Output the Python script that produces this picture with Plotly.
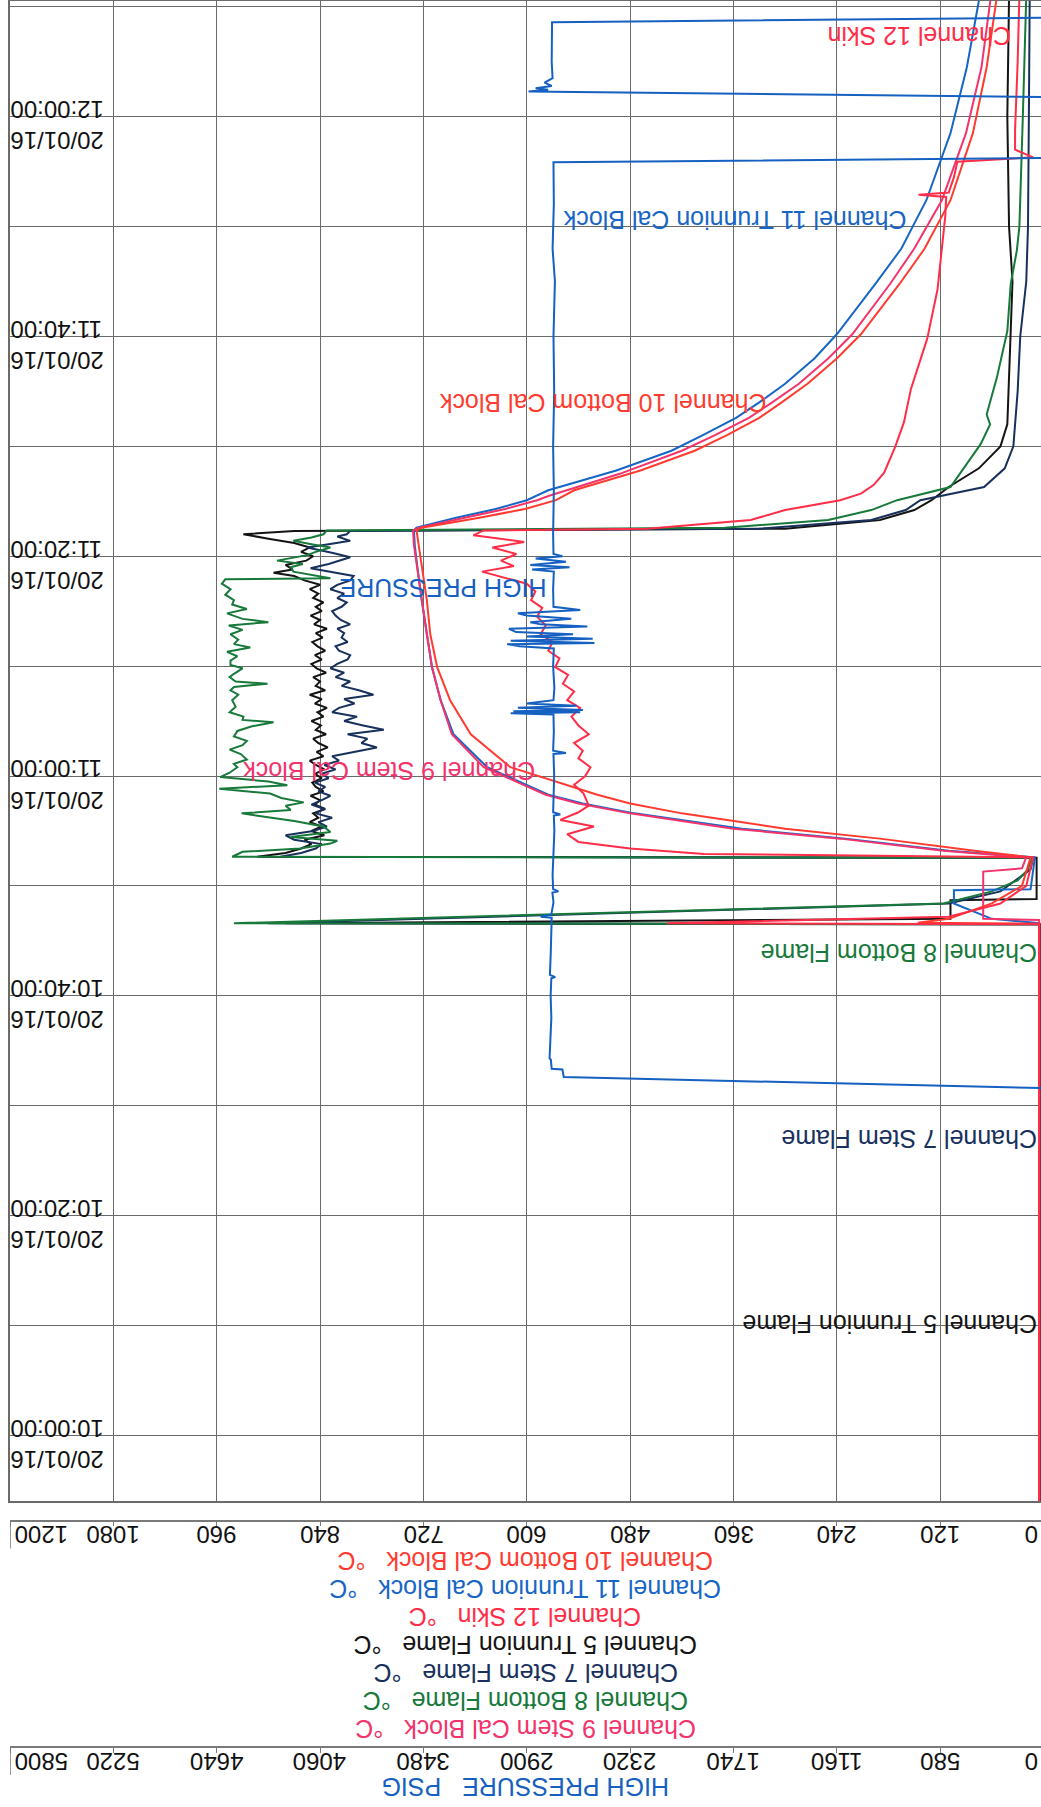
import plotly.graph_objects as go
import pandas as pd

# ---------------- data (minutes after 10:00, value) ----------------
BASE = pd.Timestamp("2016-01-20 10:00:00")

temp_ticks = [0, 120, 240, 360, 480, 600, 720, 840, 960, 1080, 1200]
temp_ticktext = ["0", "120", "240", "360", "480", "600", "720", "840", "960", "1080", "1200"]
press_ticks = [0, 580, 1160, 1740, 2320, 2900, 3480, 4060, 4640, 5220, 5800]
press_ticktext = ["0", "580", "1160", "1740", "2320", "2900", "3480", "4060", "4640", "5220", "5800"]
time_ticks_min = [0, 20, 40, 60, 80, 100, 120]
time_ticktext = ["20/01/16<br>10:00:00", "20/01/16<br>10:20:00", "20/01/16<br>10:40:00",
                 "20/01/16<br>11:00:00", "20/01/16<br>11:20:00", "20/01/16<br>11:40:00",
                 "20/01/16<br>12:00:00"]

# Channel 5 Trunnion Flame (black)
ch5 = [(-7, 4), (46.5, 4), (46.6, 880), (47.0, 108), (48.7, 108), (48.8, 8), (52.55, 8),
       (52.65, 913), (53.0, 880), (53.4, 862), (53.8, 850), (54.2, 858), (54.6, 835), (55.0, 850),
       (55.4, 838), (55.8, 852), (56.2, 842), (56.6, 848), (57.0, 834), (57.4, 846), (57.8, 840),
       (58.2, 851), (58.6, 836), (59.0, 845), (59.4, 849), (59.8, 838), (60.2, 846), (60.6, 835),
       (61.0, 845), (61.4, 852), (61.8, 836), (62.2, 844), (62.6, 831), (63.0, 842), (63.4, 848),
       (63.8, 833), (64.2, 845), (64.6, 839), (65.0, 850), (65.4, 836), (65.8, 843), (66.2, 832),
       (66.6, 846), (67.0, 838), (67.4, 852), (67.8, 834), (68.2, 845), (68.6, 840), (69.0, 848),
       (69.4, 833), (69.8, 844), (70.2, 850), (70.6, 838), (71.0, 846), (71.4, 834), (71.8, 843),
       (72.2, 849), (72.6, 837), (73.0, 845), (73.4, 832), (73.8, 847), (74.2, 840), (74.6, 851),
       (75.0, 838), (75.4, 845), (75.8, 836), (76.2, 848), (76.6, 842), (77.0, 852), (77.4, 840),
       (77.8, 858), (78.2, 870), (78.5, 894), (78.8, 872), (79.2, 880), (79.6, 856), (80.0, 848),
       (80.4, 862), (80.8, 852), (81.2, 870), (81.6, 900), (82.0, 929), (82.3, 870),
       (82.5, 300), (83.3, 190), (84.2, 150), (85.1, 130), (86.3, 110), (88, 75), (90, 50),
       (92, 42), (96, 40), (100, 38), (105, 36), (110, 40), (120, 42), (131, 40)]

# Channel 7 Stem Flame (navy)
ch7 = [(-7, 5), (46.5, 5), (46.6, 900), (48.4, 110), (49.5, 50), (51.5, 15), (52.55, 12),
       (52.65, 886), (53.0, 862), (53.4, 845), (53.8, 838), (54.2, 870), (54.6, 880), (55.0, 848),
       (55.4, 832), (55.8, 842), (56.2, 826), (56.6, 845), (57.0, 835), (57.4, 850), (57.8, 838),
       (58.2, 828), (58.6, 842), (59.0, 834), (59.4, 846), (59.8, 830), (60.2, 838), (60.6, 822),
       (61.0, 835), (61.4, 818), (61.8, 826), (62.2, 800), (62.6, 774), (63.0, 792), (63.4, 785),
       (63.8, 808), (64.2, 766), (64.6, 790), (65.0, 812), (65.4, 797), (65.8, 826), (66.2, 818),
       (66.6, 800), (67.0, 812), (67.4, 778), (67.8, 795), (68.2, 815), (68.6, 805), (69.0, 822),
       (69.4, 812), (69.8, 828), (70.2, 820), (70.6, 808), (71.0, 805), (71.4, 818), (71.8, 822),
       (72.2, 808), (72.6, 815), (73.0, 812), (73.4, 820), (73.8, 805), (74.2, 816), (74.6, 822),
       (75.0, 826), (75.4, 815), (75.8, 809), (76.2, 820), (76.6, 812), (77.0, 828), (77.4, 820),
       (77.8, 805), (78.2, 801), (78.6, 830), (78.9, 851), (79.3, 830), (79.9, 805), (80.3, 825),
       (80.8, 855), (81.1, 830), (81.4, 805), (81.8, 820), (82.0, 809), (82.3, 805),
       (82.5, 330), (83.3, 200), (84.2, 160), (85.1, 143), (86.3, 69), (88, 45), (90, 35),
       (95, 30), (100, 27), (105, 20), (110, 18), (120, 17), (131, 16)]

# Channel 8 Bottom Flame (green)
ch8 = [(-7, 5), (46.5, 5), (46.6, 940), (48.4, 116), (49.5, 60), (50.5, 30), (51.5, 18), (52.55, 14),
       (52.65, 942), (53.1, 930), (53.4, 863), (53.85, 828), (54.1, 820), (54.45, 874), (54.9, 828),
       (55.4, 836), (55.9, 870), (56.3, 905), (56.6, 931), (56.9, 874), (57.3, 880), (57.6, 859),
       (58.0, 885), (58.4, 898), (58.85, 957), (59.15, 878), (59.5, 900), (59.9, 956), (60.3, 945),
       (60.8, 936), (61.1, 940), (61.5, 925), (62.0, 932), (62.4, 945), (62.8, 930), (63.2, 925),
       (63.6, 940), (64.1, 936), (64.5, 920), (64.9, 894), (65.1, 930), (65.4, 929), (65.8, 945),
       (66.3, 938), (66.9, 942), (67.4, 935), (67.8, 944), (68.1, 940), (68.4, 901), (68.6, 938),
       (69.0, 945), (69.3, 940), (69.8, 930), (70.1, 944), (70.5, 944), (70.9, 936), (71.3, 948),
       (71.7, 921), (72.0, 940), (72.4, 935), (72.9, 944), (73.3, 930), (73.7, 946), (74.0, 900),
       (74.3, 930), (74.8, 948), (75.2, 925), (75.6, 942), (76.0, 940), (76.5, 950), (77.0, 944),
       (77.5, 954), (77.9, 950), (78.0, 828), (78.3, 850), (78.6, 871), (79.0, 874), (79.3, 860),
       (79.6, 890), (80.1, 855), (80.4, 845), (80.8, 828), (81.1, 850), (81.4, 871), (81.7, 850),
       (82.0, 836), (82.35, 832),
       (82.6, 370), (83.3, 250), (84.2, 200), (85.1, 170), (86.3, 108), (90.2, 73), (92.0, 62),
       (92.9, 66), (96.3, 54), (100.5, 42), (104.8, 38), (107.8, 31), (110, 28), (120, 24), (131, 20)]

# Channel 9 Stem Cal Block (pink)
ch9 = [(-7, 5), (46.9, 5), (47.0, 70), (51.3, 70), (51.6, 25), (52.6, 20),
       (53.2, 116), (54.3, 236), (55.2, 360), (56.6, 480), (57.5, 540), (58.3, 578), (60.8, 650),
       (63.8, 687), (66.9, 700), (69.9, 710), (72.9, 716), (76.0, 722), (79.0, 727), (81.0, 731),
       (82.35, 732), (82.6, 725), (83.5, 672), (84.3, 625), (85.1, 588), (85.5, 574), (87.5, 492),
       (89.6, 420), (91.0, 382), (92.6, 342), (94.0, 315), (95.7, 284), (98.0, 250), (100.2, 222),
       (104.8, 178), (108, 150), (112.4, 118), (118.5, 90), (124.5, 72), (131, 61)]

# Channel 10 Bottom Cal Block (orange-red)
ch10 = [(-7, 5), (46.55, 5), (46.65, 146), (47.0, 110), (48.4, 60), (50, 25), (52.6, 15),
        (53.2, 80), (54.3, 190), (55.2, 300), (56.6, 420), (57.5, 480), (58.3, 518), (60.8, 619),
        (63.8, 665), (66.9, 689), (69.9, 704), (72.9, 712), (76.0, 716), (79.0, 722), (81.0, 726),
        (82.35, 728), (82.6, 722), (83.5, 655), (84.3, 602), (85.1, 566), (86.0, 545), (87.8, 468),
        (89.6, 405), (91.0, 368), (92.6, 330), (94.0, 304), (95.7, 274), (98.0, 240), (100.2, 212),
        (104.8, 167), (108, 138), (112.4, 108), (118.5, 82), (124.5, 66), (131, 54)]

# Channel 11 Trunnion Cal Block (blue)
ch11 = [(-7, 5), (46.6, 5), (47.0, 60), (48.4, 104), (49.6, 104), (49.7, 15), (52.6, 10),
        (53.2, 110), (54.3, 230), (55.2, 350), (56.6, 475), (57.5, 535), (58.3, 575), (60.8, 646),
        (63.8, 685), (66.9, 700), (69.9, 710), (72.9, 716), (76.0, 722), (79.0, 727), (81.0, 730),
        (82.35, 731), (82.6, 728), (83.5, 682), (84.3, 636), (85.1, 600), (86.0, 575), (87.8, 496),
        (89.6, 432), (91.0, 396), (92.6, 357), (94.0, 330), (95.7, 300), (98.0, 266), (100.2, 240),
        (104.8, 195), (108, 165), (112.4, 136), (118.5, 108), (124.5, 89), (131, 74)]

# Channel 12 Skin (red)
ch12 = [(-7, 5), (46.5, 5), (46.6, 437), (47.2, 110), (48.4, 50), (50, 20), (52.6, 12),
        (52.9, 394), (53.4, 480), (54.0, 540), (54.7, 553), (55.4, 522), (56.0, 561), (56.7, 540),
        (57.3, 528), (58.4, 534), (59.2, 545), (60.0, 532), (60.8, 526), (61.6, 540), (62.3, 535),
        (63.0, 545), (63.8, 528), (64.6, 540), (65.4, 548), (66.2, 538), (66.9, 553), (67.7, 545),
        (68.4, 558), (69.2, 552), (69.9, 567), (70.7, 562), (71.4, 575), (72.2, 570), (72.9, 584),
        (73.7, 578), (74.5, 588), (75.3, 582), (76.0, 595), (76.8, 590), (77.5, 600), (78.0, 625),
        (78.6, 652), (79.1, 615), (79.6, 630), (80.2, 612), (80.8, 640), (81.3, 603), (81.9, 662),
        (82.35, 650), (82.5, 460), (83.3, 340), (84.2, 300), (85.1, 236), (85.7, 212), (86.5, 197),
        (87.6, 185), (90, 172), (92.2, 162), (95.2, 154), (99.8, 135), (104.3, 123), (108, 118),
        (111, 114), (112.7, 113), (112.9, 145), (113.1, 110), (114.5, 104), (115.9, 100),
        (116.3, 12), (117, 33), (118.8, 33), (125, 30), (131, 28)]

# HIGH PRESSURE (psig)
pressure = [(-7, 0), (31.6, 0), (32.6, 2692), (33.3, 2700), (33.35, 2760), (34.2, 2765), (34.3, 2772),
            (36, 2768), (38, 2762), (40, 2766), (41.6, 2762), (41.7, 2740), (41.9, 2770), (44, 2765),
            (46.5, 2760), (47.1, 2760), (47.2, 2822), (47.4, 2762), (48.5, 2750), (49.4, 2756),
            (49.5, 2722), (49.7, 2752), (51, 2755), (52.6, 2752), (53.5, 2748), (55, 2745),
            (56.4, 2748), (56.5, 2712), (56.7, 2752), (58, 2750), (60, 2746), (62.0, 2750),
            (62.1, 2680), (62.3, 2752), (64, 2748), (65.6, 2750), (65.7, 2990), (65.8, 2600),
            (65.9, 2975), (66.0, 2585), (66.2, 2950), (66.4, 2620), (66.6, 2900), (66.9, 2750),
            (68, 2745), (70, 2752), (71.6, 2748), (71.8, 2940), (72.0, 3010), (72.1, 2520),
            (72.3, 2990), (72.5, 2530), (72.7, 2900), (72.9, 2640), (73.1, 2960), (73.4, 3000),
            (73.6, 2560), (73.8, 2820), (74.0, 2880), (74.3, 2650), (74.6, 2900), (74.8, 2950),
            (75.1, 2600), (75.4, 2750), (77, 2752), (78.6, 2748), (78.8, 2870), (79.0, 2660),
            (79.2, 2880), (79.5, 2680), (79.8, 2850), (80.0, 2700), (80.2, 2750), (82, 2752),
            (86, 2748), (90, 2752), (95, 2746), (100, 2750), (105, 2742), (108, 2755), (112, 2748),
            (115.85, 2750), (116.25, 0), (121.8, 0), (122.3, 2890), (122.45, 2780), (122.6, 2850),
            (122.8, 2760), (123.1, 2800), (123.5, 2755), (125, 2760), (128.6, 2758), (129.0, 0),
            (131, 0)]

legend_names = ["Channel 10 Bottom Cal Block", "Channel 11 Trunnion Cal Block", "Channel 12 Skin",
                "Channel 5 Trunnion Flame", "Channel 7 Stem Flame", "Channel 8 Bottom Flame",
                "Channel 9 Stem Cal Block"]

# ---------------- styling ----------------
C5, C7, C8, C9 = "#141414", "#18305c", "#17793a", "#f2336c"
C10, C11, C12, CP = "#ff3b30", "#1766c6", "#ff2d48", "#1560c0"
colors = {"Channel 10 Bottom Cal Block": C10, "Channel 11 Trunnion Cal Block": C11,
          "Channel 12 Skin": C12, "Channel 5 Trunnion Flame": C5, "Channel 7 Stem Flame": C7,
          "Channel 8 Bottom Flame": C8, "Channel 9 Stem Cal Block": C9}
FONT = "Liberation Sans, Arial, sans-serif"
GRID = "#6a6a6a"
AXC = "#7a7a7a"
W, H = 1041, 1807
MT, MB = 1, 0
PH = H - MT - MB


def py(pix):  # page pixel row -> paper fraction
    return (H - MB - pix) / PH


def ts(mins):
    return [BASE + pd.Timedelta(minutes=m) for m in mins]


T_RIGHT = 2.9
P_RIGHT = 5800 * T_RIGHT / 1200
fig = go.Figure()
for name, data, col in [("Channel 5 Trunnion Flame", ch5, C5), ("Channel 7 Stem Flame", ch7, C7),
                        ("Channel 8 Bottom Flame", ch8, C8), ("Channel 11 Trunnion Cal Block", ch11, C11),
                        ("Channel 9 Stem Cal Block", ch9, C9), ("Channel 10 Bottom Cal Block", ch10, C10),
                        ("Channel 12 Skin", ch12, C12)]:
    fig.add_trace(go.Scatter(x=[v for _, v in data], y=ts([t for t, _ in data]), mode="lines",
                             line=dict(color=col, width=2), name=name, xaxis="x", yaxis="y"))
fig.add_trace(go.Scatter(x=[v for _, v in pressure], y=ts([t for t, _ in pressure]), mode="lines",
                         line=dict(color=CP, width=2), name="HIGH PRESSURE", xaxis="x3", yaxis="y"))
# empty trace so the temperature scale axis (x2) is drawn
fig.add_trace(go.Scatter(x=[600], y=[BASE - pd.Timedelta(days=1)], mode="lines", xaxis="x2",
                         yaxis="y", hoverinfo="skip", showlegend=False))

TEMP_AX_PIX, PRESS_AX_PIX = 1520.5, 1747
plot_bottom_pix = 1501
fig.update_layout(
    width=W, height=H, margin=dict(l=10, r=0, t=MT, b=MB),
    paper_bgcolor="white", plot_bgcolor="white", showlegend=False,
    font=dict(family=FONT, size=24, color="#111"),
    xaxis=dict(range=[1200, T_RIGHT], tickvals=temp_ticks, showticklabels=False, showgrid=True,
               gridcolor=GRID, gridwidth=1.3, showline=True, mirror=True, linecolor=GRID,
               linewidth=1.5, zeroline=False, ticks=""),
    xaxis2=dict(overlaying="x", anchor="free", position=py(TEMP_AX_PIX), range=[1200, T_RIGHT],
                tickvals=temp_ticks, showticklabels=False, showgrid=False,
                showline=True, linecolor=AXC, linewidth=1.5, ticks="outside", ticklen=5,
                tickcolor=AXC, zeroline=False),
    xaxis3=dict(overlaying="x", anchor="free", position=py(PRESS_AX_PIX), range=[5800, P_RIGHT],
                tickvals=press_ticks, showticklabels=False, showgrid=False,
                showline=True, linecolor=AXC, linewidth=1.5, ticks="outside", ticklen=5,
                tickcolor=AXC, zeroline=False),
    yaxis=dict(type="date", domain=[py(plot_bottom_pix), 1],
               range=[BASE + pd.Timedelta(minutes=-5.98), BASE + pd.Timedelta(minutes=130.53)],
               tickvals=ts(time_ticks_min), ticktext=time_ticktext, tickangle=180,
               ticklabelstandoff=-7,
               showgrid=True, gridcolor=GRID, gridwidth=1.3, showline=True, linecolor=GRID,
               linewidth=1.5, ticks="", zeroline=False, tickfont=dict(size=24, color="#111"),
               minor=dict(tick0=BASE, dtick=600000, showgrid=True, gridcolor=GRID, gridwidth=1.3)),
)

# tall end marks at the left of both scale axes
for pix in (TEMP_AX_PIX, PRESS_AX_PIX):
    fig.add_shape(type="line", xref="x", yref="paper", x0=1200, x1=1200, y0=py(pix), y1=py(pix + 28),
                  line=dict(color=AXC, width=1.5))

# scale tick labels (upside down)
for axref, ticks, texts, row in [("x2", temp_ticks, temp_ticktext, 1535),
                                 ("x3", press_ticks, press_ticktext, 1762)]:
    for val, txt in zip(ticks, texts):
        if val == 0:
            fig.add_annotation(text=txt, x=1, xref="paper", xshift=-1, xanchor="right",
                               y=py(row), yref="paper", yanchor="middle", textangle=180,
                               showarrow=False, font=dict(family=FONT, size=24, color="#111"))
        elif val == ticks[-1]:
            fig.add_annotation(text=txt, x=val, xref=axref, xshift=3, xanchor="left",
                               y=py(row), yref="paper", yanchor="middle", textangle=180,
                               showarrow=False, font=dict(family=FONT, size=24, color="#111"))
        else:
            fig.add_annotation(text=txt, x=val, xref=axref, xanchor="center",
                               y=py(row), yref="paper", yanchor="middle", textangle=180,
                               showarrow=False, font=dict(family=FONT, size=24, color="#111"))

# in-plot labels (text upside down like the reference)
inplot = [("Channel 12 Skin", 36, 127.4, C12), ("Channel 11 Trunnion Cal Block", 157, 110.6, C11),
          ("Channel 10 Bottom Cal Block", 319, 93.9, C10), ("HIGH PRESSURE", 575, 77.1, CP),
          ("Channel 9 Stem Cal Block", 588, 60.4, C9), ("Channel 8 Bottom Flame", 4.6, 43.9, C8),
          ("Channel 7 Stem Flame", 4.6, 26.9, C7), ("Channel 5 Trunnion Flame", 4.6, 10.15, C5)]
for txt, xv, tm, col in inplot:
    fig.add_annotation(text=txt, x=xv, y=BASE + pd.Timedelta(minutes=tm), xref="x", yref="y",
                       xanchor="right", yanchor="middle", textangle=180, showarrow=False,
                       font=dict(family=FONT, size=25, color=col))

# legend block below the temperature axis
leg_rows = [1561, 1589, 1617, 1645, 1673, 1701, 1729]
for name, row in zip(legend_names, leg_rows):
    fig.add_annotation(text=name + "\u00a0" * 3 + "°C", x=0.5, y=py(row), xref="paper", yref="paper",
                       xanchor="center", yanchor="middle", textangle=180, showarrow=False,
                       font=dict(family=FONT, size=25, color=colors[name]))
fig.add_annotation(text="HIGH PRESSURE" + "\u00a0" * 3 + "PSIG", x=0.5, y=py(1787), xref="paper",
                   yref="paper", xanchor="center", yanchor="middle", textangle=180, showarrow=False,
                   font=dict(family=FONT, size=25, color=CP))

fig.write_html("out.html", config={"displayModeBar": False},
               post_script="document.body.style.margin='0px';")
